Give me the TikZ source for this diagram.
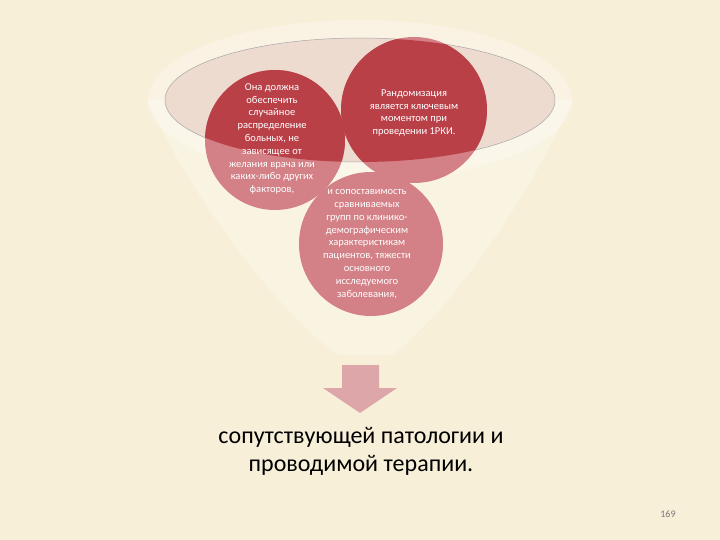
\documentclass[tikz,border=0pt]{standalone}
\usepackage{fontspec}
\setmainfont{Carlito}
\usetikzlibrary{positioning}
\definecolor{bgc}{RGB}{248,239,217}
\definecolor{darkred}{RGB}{186,64,72}
\definecolor{lightred}{RGB}{211,128,134}
\definecolor{rimfill}{RGB}{238,219,208}
\definecolor{arrowc}{RGB}{221,166,168}
\definecolor{numc}{RGB}{120,120,120}
\tikzset{
  ballc/.style={circle, fill=lightred, inner sep=0pt, minimum size=#1},
  balltxt/.style={text=white, align=center, font=\fontsize{10.5}{12.8}\selectfont, inner sep=0pt},
  maintxt/.style={align=center, font=\fontsize{24}{28}\selectfont, text=black, inner sep=0pt},
}
\begin{document}
\begin{tikzpicture}[x=1pt,y=-1pt]
\useasboundingbox (0,0) rectangle (720,540);
\fill[bgc] (0,0) rectangle (720,540);
% funnel body
\fill[white, opacity=0.25] (148,100) .. controls (200,220) and (300,330) .. (338,355)
  -- (392,355) .. controls (430,330) and (520,220) .. (572,100) -- cycle;
\fill[white, opacity=0.3] (360,100) ellipse (212 and 80);
% rim ellipse
\coordinate (rimc) at (360,100);
\fill[rimfill] (rimc) ellipse (195 and 62);
\draw[gray!70, line width=0.5pt] (rimc) ellipse (195 and 62);
% balls
\node[ballc=140] (b1) at (275,140) {};
\node[ballc=146] (b2) at (414,110) {};
\node[ballc=144] (b3) at (371,244) {};
\begin{scope}
  \clip (rimc) ellipse (195 and 62);
  \fill[darkred] (b1.center) circle (70);
  \fill[darkred] (b2.center) circle (73);
\end{scope}
% texts
\node[balltxt] (t1) at (272,139) {Она должна\\обеспечить\\случайное\\распределение\\больных, не\\зависящее от\\желания врача или\\каких-либо других\\факторов,};
\node[balltxt] (t2) at (414,113) {Рандомизация\\является ключевым\\моментом при\\проведении 1РКИ.};
\node[balltxt] (t3) at (367,244) {и сопоставимость\\сравниваемых\\групп по клинико-\\демографическим\\характеристикам\\пациентов, тяжести\\основного\\исследуемого\\заболевания,};
% arrow
\fill[arrowc] (342,365) -- (379,365) -- (379,388) -- (397,388) -- (360,413) -- (323,388) -- (342,388) -- cycle;
\node[maintxt] (t4) at (361,451) {сопутствующей патологии и\\проводимой терапии.};
\node[text=numc, font=\fontsize{10}{12}\selectfont, inner sep=0pt] (pg) at (668,514) {169};
\end{tikzpicture}
\end{document}
